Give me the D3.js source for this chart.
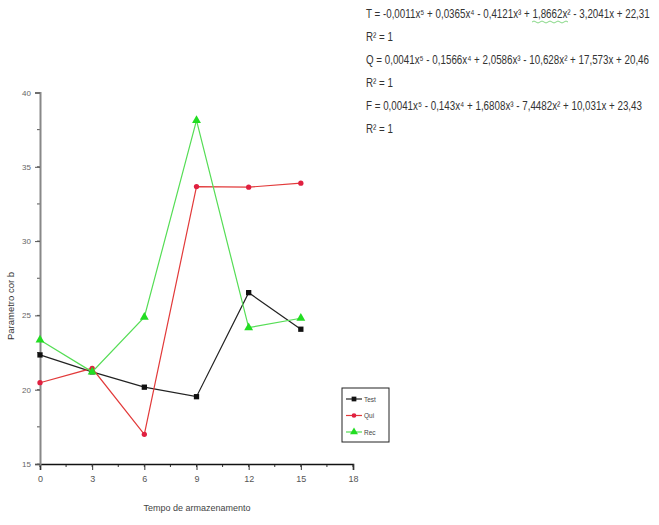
<!DOCTYPE html>
<html>
<head>
<meta charset="utf-8">
<script src="https://cdn.jsdelivr.net/npm/d3@7"></script>
<style>
  html, body { margin: 0; padding: 0; background: #fff; }
  svg { display: block; font-family: "Liberation Sans", Arial, sans-serif; }
</style>
</head>
<body>
<svg id="chart" width="659" height="525"></svg>
<script>
// Storage time (x) and colour parameter b for each series
const times = [0, 3, 6, 9, 12, 15];
const testValues = [22.34, 21.2, 20.17, 19.53, 26.53, 24.07];
const quiValues = [20.47, 21.44, 17.0, 33.67, 33.63, 33.9];
const recValues = [23.35, 21.2, 24.88, 38.12, 24.18, 24.81];
const seriesNames = ["Test", "Qui", "Rec"];
const xTicks = [0, 3, 6, 9, 12, 15, 18];
const yTicks = [15, 20, 25, 30, 35, 40];
const equationLines = [
  "T = -0,0011x⁵ + 0,0365x⁴ - 0,4121x³ + 1,8662x² - 3,2041x + 22,31",
  "R² = 1",
  "Q = 0,0041x⁵ - 0,1566x⁴ + 2,0586x³ - 10,628x² + 17,573x + 20,46",
  "R² = 1",
  "F = 0,0041x⁵ - 0,143x⁴ + 1,6808x³ - 7,4482x² + 10,031x + 23,43",
  "R² = 1"
];

const svg = d3.select("#chart");

const x = d3.scaleLinear().domain([0, 18]).range([40, 353]);
const y = d3.scaleLinear().domain([15, 40]).range([464, 92.5]);

// minor ticks
const g = svg.append("g");
g.selectAll(".xminor").data(d3.range(0, 18.01, 1.5))
  .join("line")
  .attr("x1", d => x(d)).attr("x2", d => x(d))
  .attr("y1", y(15)).attr("y2", y(15) + 3)
  .attr("stroke", "#333").attr("stroke-width", 1);
g.selectAll(".yminor").data(d3.range(15, 40.01, 2.5))
  .join("line")
  .attr("x1", x(0) - 3).attr("x2", x(0))
  .attr("y1", d => y(d)).attr("y2", d => y(d))
  .attr("stroke", "#555").attr("stroke-width", 1);

// axes
const xAxis = d3.axisBottom(x).tickValues(xTicks).tickSize(6).tickPadding(6);
const yAxis = d3.axisLeft(y).tickValues(yTicks).tickSize(5).tickPadding(4);

const gx = svg.append("g").attr("transform", `translate(0,${y(15)})`).call(xAxis);
gx.select(".domain").attr("stroke", "#111").attr("stroke-width", 1.6);
gx.selectAll(".tick line").attr("stroke", "#333");
gx.selectAll(".tick text").attr("font-size", 9).attr("fill", "#555");

const gy = svg.append("g").attr("transform", `translate(${x(0)},0)`).call(yAxis);
gy.select(".domain").attr("stroke", "#888").attr("stroke-width", 2);
gy.selectAll(".tick line").attr("stroke", "#555");
gy.selectAll(".tick text").attr("font-size", 8).attr("fill", "#666");

// axis titles
svg.append("text")
  .attr("x", 197).attr("y", 511)
  .attr("text-anchor", "middle")
  .attr("font-size", 9).attr("fill", "#444")
  .text("Tempo de armazenamento");
svg.append("text")
  .attr("transform", "translate(14,306) rotate(-90)")
  .attr("text-anchor", "middle")
  .attr("font-size", 9.5).attr("fill", "#333")
  .text("Parametro cor b");

// series
const series = [
  { name: seriesNames[0], values: testValues, color: "#111", line: "#222", shape: d3.symbolSquare, size: 28 },
  { name: seriesNames[1], values: quiValues, color: "#e02040", line: "#e23a3a", shape: d3.symbolCircle, size: 22 },
  { name: seriesNames[2], values: recValues, color: "#22dd22", line: "#55dd55", shape: d3.symbolTriangle, size: 34 }
];

const line = d3.line().x(d => x(d[0])).y(d => y(d[1]));

series.forEach(s => {
  const pts = times.map((t, i) => [t, s.values[i]]);
  svg.append("path")
    .datum(pts)
    .attr("d", line)
    .attr("fill", "none")
    .attr("stroke", s.line)
    .attr("stroke-width", 1.2);
  svg.selectAll(null).data(pts).join("path")
    .attr("transform", d => `translate(${x(d[0])},${y(d[1])})`)
    .attr("d", d3.symbol().type(s.shape).size(s.size))
    .attr("fill", s.color);
});

// legend
const lg = svg.append("g").attr("transform", "translate(342,388)");
lg.append("rect").attr("width", 47).attr("height", 54)
  .attr("fill", "#fff").attr("stroke", "#222").attr("stroke-width", 1);
series.forEach((s, i) => {
  const ly = 11 + i * 16.5;
  lg.append("line").attr("x1", 4).attr("x2", 20).attr("y1", ly).attr("y2", ly)
    .attr("stroke", s.line).attr("stroke-width", 1.2);
  lg.append("path").attr("transform", `translate(12,${ly})`)
    .attr("d", d3.symbol().type(s.shape).size(s.size * 0.8)).attr("fill", s.color);
  lg.append("text").attr("x", 22).attr("y", ly + 2.5)
    .attr("font-size", 6.5).attr("fill", "#444").text(s.name);
});

// fitted polynomial equations, horizontally condensed to fit the space on the right
const eq = svg.append("g");
const eqSize = 12.5;
let squeeze = 1;
equationLines.forEach((t, i) => {
  const txt = eq.append("text")
    .attr("x", 0).attr("y", 0)
    .attr("font-size", eqSize).attr("fill", "#333")
    .text(t);
  if (i === 0) {
    const w = txt.node().getComputedTextLength();
    squeeze = Math.min(1, 284 / w);
  }
  txt.attr("transform", `translate(366,${18 + i * 23}) scale(${squeeze},1)`);
});
// spelling-check squiggle under one coefficient
eq.append("path")
  .attr("d", "M532,22 q2,-2 4,0 t4,0 t4,0 t4,0 t4,0 t4,0 t4,0 t4,0 t4,0")
  .attr("fill", "none").attr("stroke", "#6c6").attr("stroke-width", 0.8);
</script>
</body>
</html>
